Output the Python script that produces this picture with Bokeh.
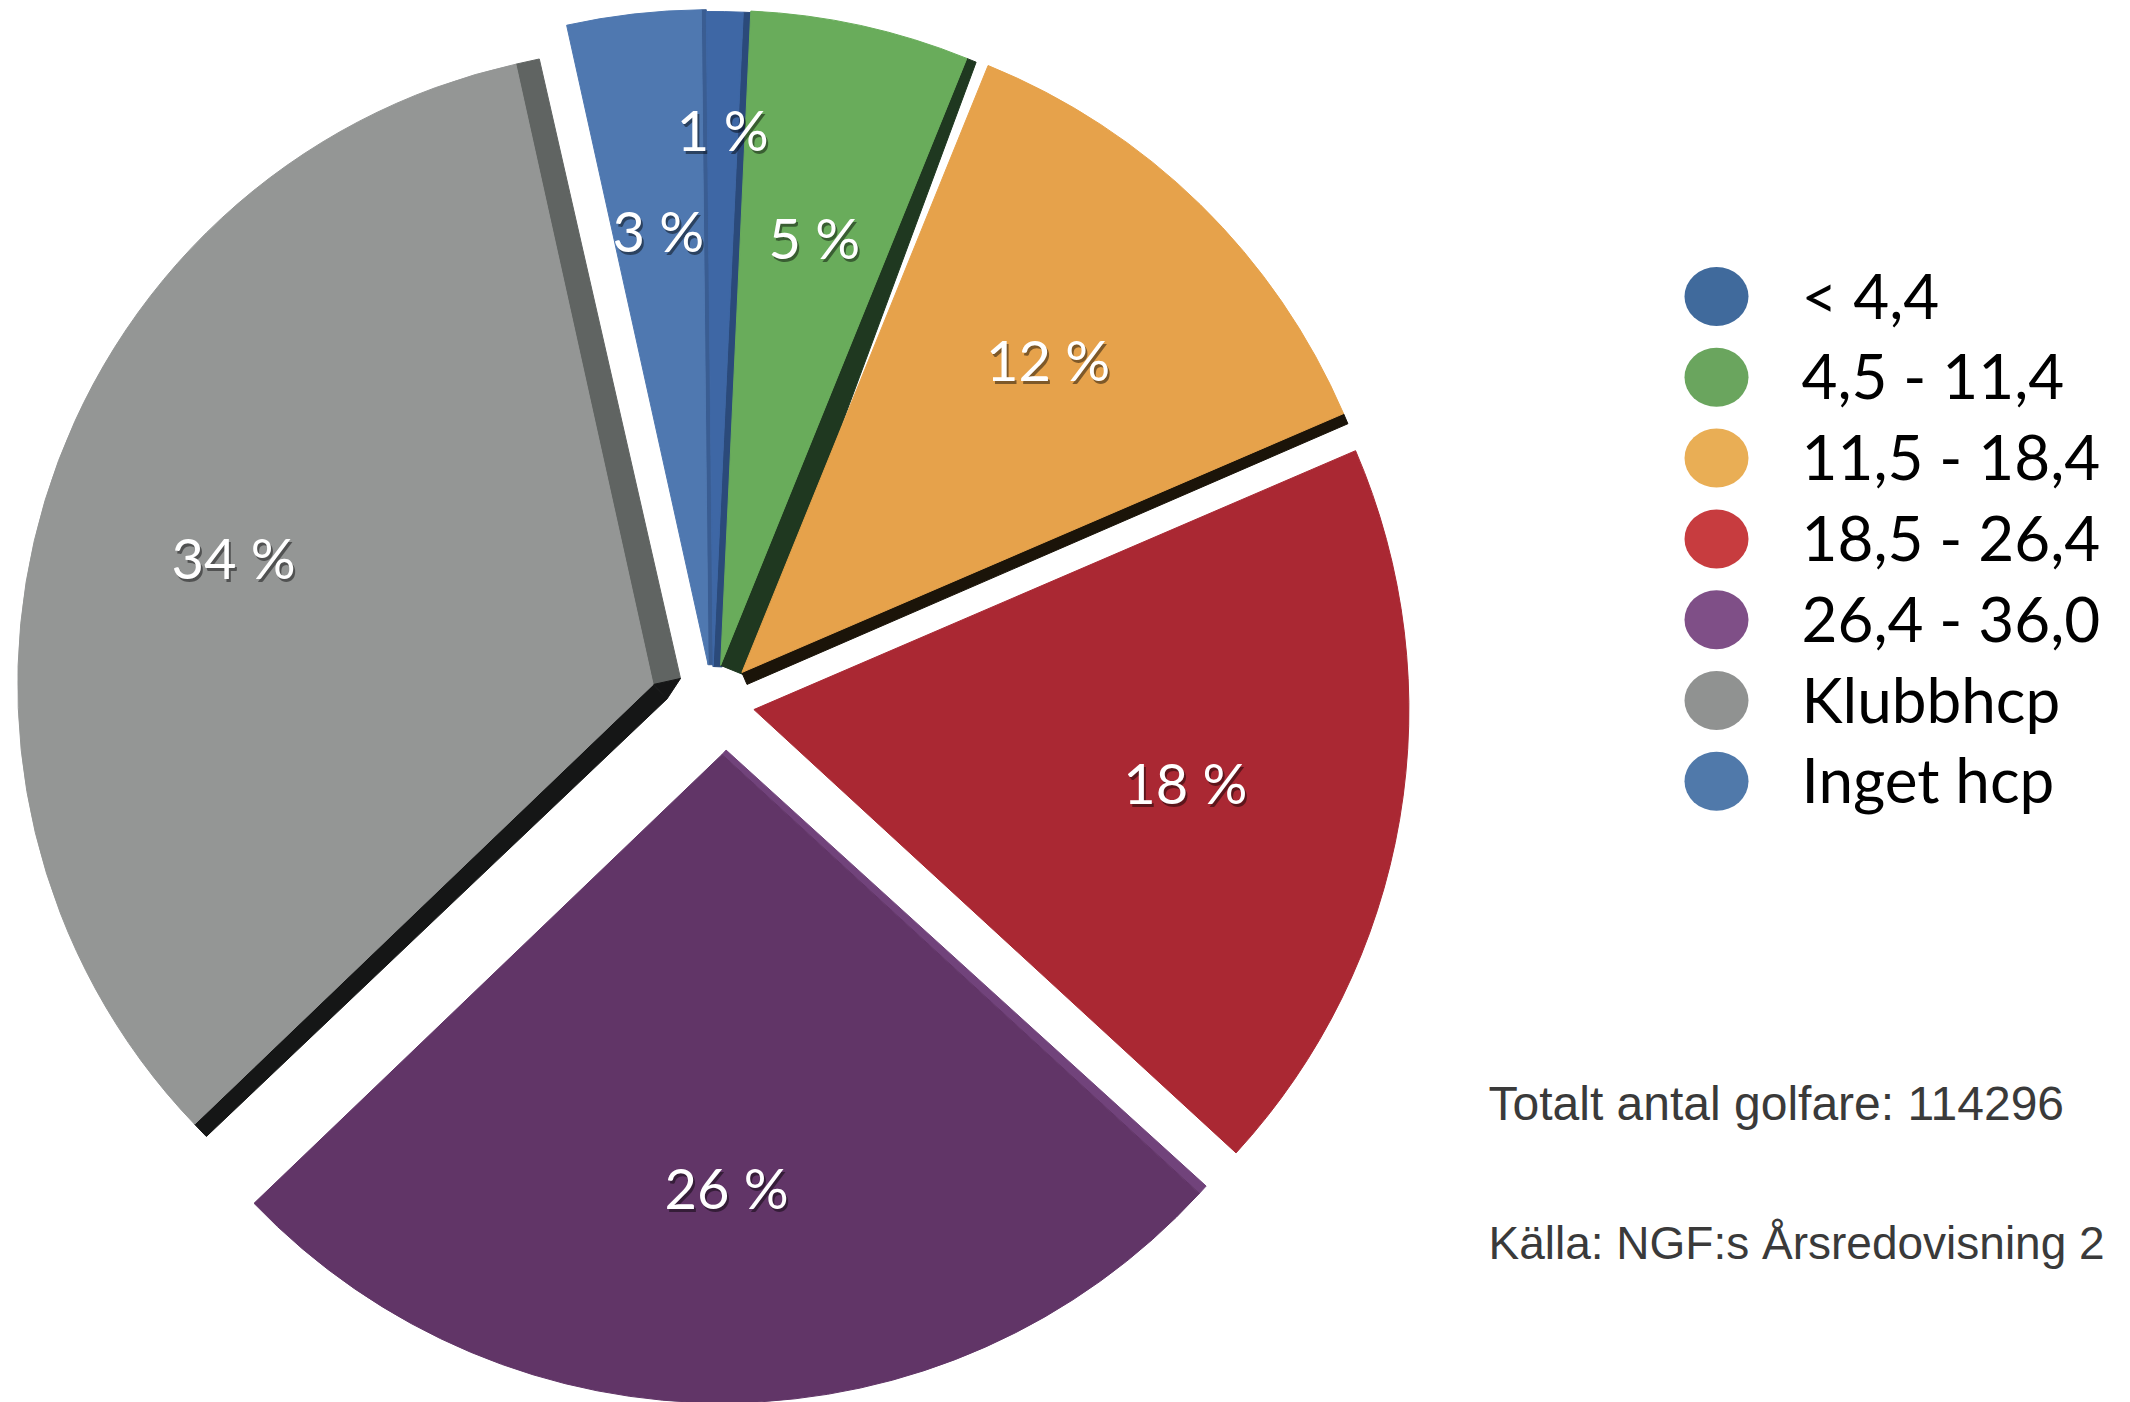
import math
from bokeh.plotting import figure
from bokeh.models import Range1d
from bokeh.core.properties import value
from bokeh.embed import file_html
from bokeh.resources import INLINE

# ---------------- data ----------------
categories = ["< 4,4", "4,5 - 11,4", "11,5 - 18,4", "18,5 - 26,4",
              "26,4 - 36,0", "Klubbhcp", "Inget hcp"]
shares = [0.9, 5.4, 12.4, 18.3, 26.0, 33.7, 3.3]          # percent
total_golfers = 114296
note_lines = [f"Totalt antal golfare: {total_golfers}",
              "Källa: NGF:s Årsredovisning 2"]

# ---------------- styles ----------------
face_colors = ["#3e67a5", "#69ac5b", "#e6a24b", "#aa2833", "#613567", "#949695", "#4f78b0"]
legend_colors = ["#406a9c", "#6aa55e", "#e9ae55", "#c73c3f", "#7f4f87", "#909291", "#5079aa"]
# side bands giving the extruded 3D look: (edge, width at apex, width at rim, colour)
bands = [
    [("end", 9, 9, "#2b4a7a")],
    [("end", 30, 10, "#1f3820")],
    [("end", 13, 11, "#1b1409")],
    [],
    [("start", 6, 10, "#71437b")],
    [("start", 20, 17, "#151616"), ("end", 28, 24, "#606462")],
    [("end", 5, 5, "#3a5d92")],
]
explode = [36, 38, 42, 42, 52, 62, 38]
nudge_x = [0, 0, 0, 0, 9, 0, 0]
radius_scale = [1, 1, 1, 1, 0.99, 0.97, 1]
label_frac = [0.82, 0.668, 0.668, 0.668, 0.668, 0.69, 0.668]

W, H = 2130, 1402
CX, CY = 712, 702          # pie centre (screen px, y down)
R = 655
START = -0.6               # degrees clockwise from 12 o'clock

LABEL_FONT = "Lato"
NOTE_FONT = "Liberation Sans"

p = figure(width=W, height=H, x_range=Range1d(0, W), y_range=Range1d(0, H),
           output_backend="svg", toolbar_location=None,
           x_axis_location=None, y_axis_location=None, min_border=0)
p.grid.visible = False
p.outline_line_color = None
p.background_fill_color = "white"
p.border_fill_color = "white"


def sy(y):
    return H - y


total = sum(shares)
theta = START
face = dict(x=[], y=[], r=[], s=[], e=[], c=[])
bxs, bys, bcs = [], [], []
lab = dict(x=[], y=[], t=[])

for i, v in enumerate(shares):
    span = 360.0 * v / total
    t1, t2 = theta, theta + span
    theta = t2
    mid = math.radians((t1 + t2) / 2)
    ax = CX + explode[i] * math.sin(mid) + nudge_x[i]
    ay = CY - explode[i] * math.cos(mid)
    r = R * radius_scale[i]
    face["x"].append(ax)
    face["y"].append(sy(ay))
    face["r"].append(r)
    face["s"].append(math.radians(90 - t2))
    face["e"].append(math.radians(90 - t1))
    face["c"].append(face_colors[i])

    normals = {}
    for edge, w0, w1, col in bands[i]:
        t = math.radians(t1 if edge == "start" else t2)
        d = (math.sin(t), -math.cos(t))
        n = (math.cos(t), math.sin(t)) if edge == "end" else (-math.cos(t), -math.sin(t))
        normals[edge] = (n, w0, col)
        P = (ax + r * d[0], ay + r * d[1])
        pts = [(ax, ay), P, (P[0] + w1 * n[0], P[1] + w1 * n[1]),
               (ax + w0 * n[0], ay + w0 * n[1])]
        bxs.append([q[0] for q in pts])
        bys.append([sy(q[1]) for q in pts])
        bcs.append(col)
    if len(normals) == 2:
        (n1, w1_, c1), (n2, w2_, _) = normals["start"], normals["end"]
        pts = [(ax, ay), (ax + w2_ * n2[0], ay + w2_ * n2[1]),
               (ax + w1_ * n1[0], ay + w1_ * n1[1])]
        bxs.append([q[0] for q in pts])
        bys.append([sy(q[1]) for q in pts])
        bcs.append(c1)

    frac = label_frac[i]
    lab["x"].append(ax + r * frac * math.sin(mid))
    lab["y"].append(sy(ay - r * frac * math.cos(mid)))
    lab["t"].append(f"{round(v)} %")

# extrusion side bands, then faces
p.patches(xs=bxs, ys=bys, fill_color=bcs, line_color=bcs, line_width=1)
p.wedge(x=face["x"], y=face["y"], radius=face["r"], start_angle=face["s"],
        end_angle=face["e"], fill_color=face["c"], line_color=face["c"], line_width=1)

# percentage labels with soft shadow
p.text(x=[x + 2 for x in lab["x"]], y=[y - 3 for y in lab["y"]], text=lab["t"],
       text_font=value(LABEL_FONT), text_font_size=value("56px"),
       text_color="black", text_alpha=0.45, text_align="center", text_baseline="middle")
p.text(x=lab["x"], y=lab["y"], text=lab["t"],
       text_font=value(LABEL_FONT), text_font_size=value("56px"),
       text_color="white", text_align="center", text_baseline="middle")

# legend
LEG_X, LEG_Y0, LEG_DY = 1716, 296, 80.8
ly = [sy(LEG_Y0 + LEG_DY * k) for k in range(len(categories))]
p.ellipse(x=[LEG_X] * len(categories), y=ly, width=64, height=59,
          fill_color=legend_colors, line_color=None)
p.text(x=[1801] * len(categories), y=[y + 2 for y in ly], text=categories,
       text_font=value(LABEL_FONT), text_font_size=value("62px"),
       text_color="black", text_align="left", text_baseline="middle")

# notes
p.text(x=[1488], y=[sy(1103)], text=note_lines[:1],
       text_font=value(NOTE_FONT), text_font_size=value("48px"),
       text_color="#3a3a3a", text_align="left", text_baseline="alphabetic")
p.text(x=[1488], y=[sy(1242)], text=note_lines[1:],
       text_font=value(NOTE_FONT), text_font_size=value("46px"),
       text_color="#3a3a3a", text_align="left", text_baseline="alphabetic")

open("out.html", "w").write(file_html(p, INLINE))
